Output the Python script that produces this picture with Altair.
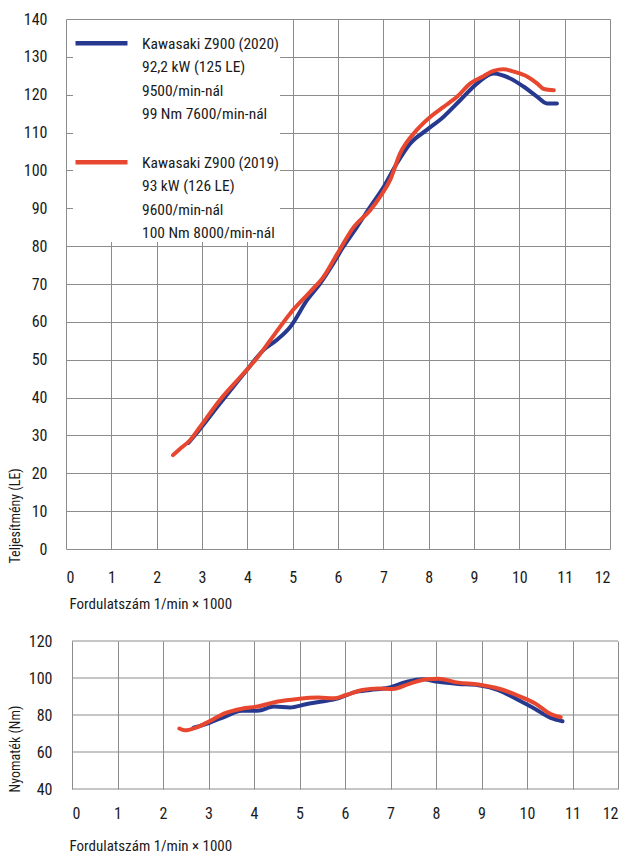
import json
import altair as alt
import pandas as pd

FONT = "Roboto Condensed, DejaVu Sans Condensed, sans-serif"
BLUE = "#27398f"
RED = "#e8472f"
GRID = "#8c8c8c"
TEXT = "#1a1a1a"

series_names = ["Kawasaki Z900 (2020)", "Kawasaki Z900 (2019)"]
legend_2020 = ["Kawasaki Z900 (2020)", "92,2 kW (125 LE)", "9500/min-nál", "99 Nm 7600/min-nál"]
legend_2019 = ["Kawasaki Z900 (2019)", "93 kW (126 LE)", "9600/min-nál", "100 Nm 8000/min-nál"]

x_ticks = list(range(0, 13))
power_ticks = list(range(0, 141, 10))
torque_ticks = list(range(40, 121, 20))

x_title = "Fordulatszám 1/min × 1000"
power_title = "Teljesítmény (LE)"
torque_title = "Nyomaték (Nm)"

# Power (LE) – 2020 model
rpm_power_2020 = [2.70, 2.82, 3.40, 3.99, 4.36, 4.65, 4.95, 5.32, 5.61, 5.90, 6.10, 6.42,
                  6.71, 7.01, 7.30, 7.60, 7.96, 8.33, 8.70, 9.07, 9.43, 9.80, 10.10, 10.39,
                  10.61, 10.83]
power_2020 = [28.0, 29.7, 38.5, 47.3, 52.6, 55.2, 58.7, 65.8, 70.2, 75.5, 79.5, 85.1,
              90.4, 95.7, 101.9, 107.2, 110.7, 114.2, 118.6, 123.0, 125.6, 124.3, 122.1, 119.5,
              117.7, 117.7]

# Power (LE) – 2019 model
rpm_power_2019 = [2.36, 2.50, 2.74, 2.96, 3.40, 3.85, 4.21, 4.51, 4.95, 5.39, 5.68, 5.98,
                  6.35, 6.71, 6.93, 7.15, 7.37, 7.74, 8.04, 8.33, 8.63, 8.92, 9.21, 9.43,
                  9.65, 9.88, 10.17, 10.39, 10.54, 10.76]
power_2019 = [24.8, 26.3, 28.8, 32.3, 39.4, 45.5, 50.4, 55.2, 62.3, 68.0, 71.9, 77.9,
              85.1, 89.5, 93.1, 97.5, 104.5, 110.7, 114.2, 116.8, 119.5, 123.0, 124.9, 126.3,
              126.7, 126.1, 124.8, 123.0, 121.5, 121.2]

# Torque (Nm) – 2020 model
rpm_torque_2020 = [2.67, 3.02, 3.38, 3.73, 4.08, 4.44, 4.79, 5.14, 5.49, 5.85, 6.20, 6.55,
                   6.95, 7.35, 7.70, 8.05, 8.49, 8.93, 9.37, 9.81, 10.17, 10.52, 10.78]
torque_2020 = [73.1, 75.8, 79.3, 82.3, 82.3, 84.6, 84.1, 85.8, 87.3, 89.0, 92.2, 93.5,
               94.7, 97.9, 99.3, 97.9, 96.8, 96.1, 93.5, 88.1, 83.4, 78.4, 76.6]

# Torque (Nm) – 2019 model
rpm_torque_2019 = [2.36, 2.48, 2.76, 3.02, 3.38, 3.73, 4.08, 4.52, 4.96, 5.41, 5.76, 6.02,
                   6.38, 6.73, 7.04, 7.43, 7.79, 8.05, 8.49, 8.93, 9.37, 9.81, 10.17, 10.52,
                   10.74]
torque_2019 = [72.7, 71.7, 73.5, 76.6, 81.1, 83.4, 84.6, 87.3, 88.7, 89.4, 89.0, 90.8,
               93.5, 94.3, 94.0, 97.0, 99.3, 99.6, 97.5, 96.5, 94.3, 90.4, 86.4, 80.5,
               78.8]


def frame(rpms, vals, name):
    return pd.DataFrame({"rpm": rpms, "value": vals, "series": name})


power_df = pd.concat([frame(rpm_power_2020, power_2020, series_names[0]),
                      frame(rpm_power_2019, power_2019, series_names[1])], ignore_index=True)
torque_df = pd.concat([frame(rpm_torque_2020, torque_2020, series_names[0]),
                       frame(rpm_torque_2019, torque_2019, series_names[1])], ignore_index=True)
torque_grid_df = pd.DataFrame({"value": torque_ticks})

label_expr = "datum.label == '%s' ? %s : %s" % (
    series_names[0],
    json.dumps(legend_2020, ensure_ascii=False),
    json.dumps(legend_2019, ensure_ascii=False),
)

color_scale = alt.Scale(domain=series_names, range=[BLUE, RED])

legend = alt.Legend(
    title=None, orient="none", legendX=7, legendY=1, direction="vertical",
    symbolType="M-1,-0.2H1", symbolStrokeWidth=4.5, symbolSize=2704,
    labelExpr=label_expr, labelFontSize=15.5, labelFont=FONT, labelColor=TEXT,
    labelBaseline="alphabetic", labelOffset=12, rowPadding=16, labelLimit=400,
    fillColor="white", padding=0,
)


def x_axis(title_x, title_y, label_pad):
    return alt.Axis(values=x_ticks, title=x_title, grid=True, labelPadding=label_pad,
                    labelBaseline="middle", titleX=title_x, titleY=title_y,
                    titleAlign="left", titleBaseline="middle", titleFontSize=15)


line_props = dict(strokeWidth=4, interpolate="monotone", strokeCap="round", strokeJoin="round")

top = alt.Chart(power_df).mark_line(**line_props).encode(
    x=alt.X("rpm:Q", scale=alt.Scale(domain=[0, 12], nice=False), axis=x_axis(3, 54, 28)),
    y=alt.Y("value:Q", scale=alt.Scale(domain=[0, 140], nice=False),
            axis=alt.Axis(values=power_ticks, title=power_title, grid=True, labelPadding=19,
                          titleAngle=270, titleAlign="left", titleBaseline="alphabetic",
                          titleX=-47, titleY=544)),
    color=alt.Color("series:N", scale=color_scale, legend=legend),
    order=alt.Order("rpm:Q"),
).properties(width=544, height=530)

# torque panel: its x = 0 sits 6 px to the right of the power panel's
bottom_x = alt.X("rpm:Q", scale=alt.Scale(domain=[0, 12], range=[6, 552], nice=False),
                 axis=x_axis(3, 56, 24))
bottom_y = alt.Y("value:Q", scale=alt.Scale(domain=[40, 120], nice=False),
                 axis=alt.Axis(values=torque_ticks, title=torque_title, grid=False,
                               labelPadding=14, titleAngle=270, titleAlign="left",
                               titleBaseline="alphabetic", titleX=-47, titleY=151))

torque_grid = alt.Chart(torque_grid_df).mark_rule(color=GRID, strokeWidth=1).encode(
    y=bottom_y,
    x=alt.datum(x_ticks[0]),
    x2=alt.datum(x_ticks[-1]),
)

torque_lines = alt.Chart(torque_df).mark_line(**line_props).encode(
    x=bottom_x,
    y=bottom_y,
    color=alt.Color("series:N", scale=color_scale, legend=None),
    order=alt.Order("rpm:Q"),
)

bottom = alt.layer(torque_grid, torque_lines).properties(width=552, height=148)

chart = alt.vconcat(top, bottom, spacing=22).resolve_scale(color="shared").properties(
    padding={"left": 0, "top": 3, "right": 0, "bottom": 0}
).configure(font=FONT, style={"guide-label": {"lineHeight": 23.5}}).configure_view(
    strokeWidth=0
).configure_axis(
    gridColor=GRID, gridWidth=1, gridOpacity=1, domain=False, ticks=False, tickSize=0,
    labelFontSize=16, labelColor=TEXT, labelFont=FONT,
    titleFontSize=14, titleFontWeight="normal", titleColor=TEXT, titleFont=FONT,
)

chart.save("out.html", embed_options={"renderer": "svg", "actions": False})
